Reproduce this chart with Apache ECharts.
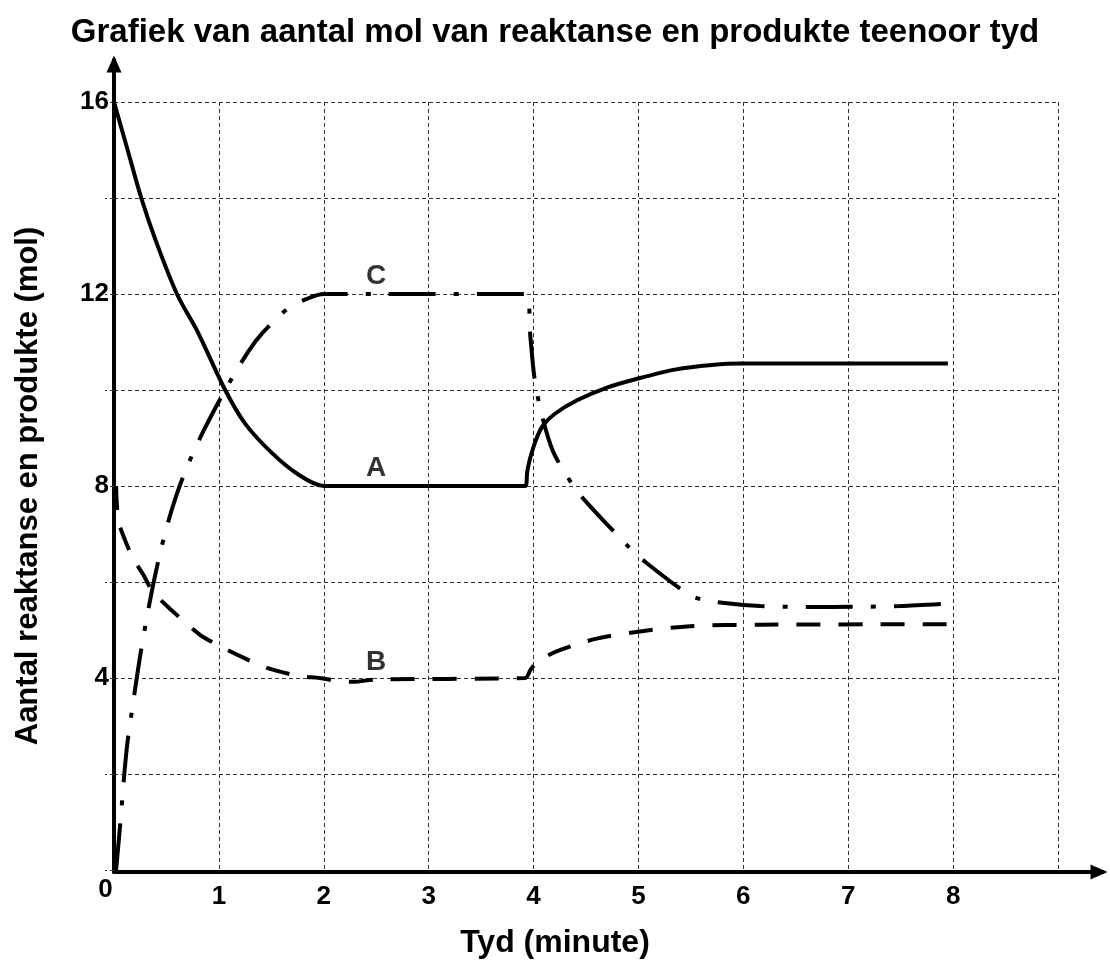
<!DOCTYPE html>
<html>
<head>
<meta charset="utf-8">
<title>Grafiek van aantal mol</title>
<script src="https://cdn.jsdelivr.net/npm/echarts@6/dist/echarts.min.js"></script>
<style>
  html, body { margin: 0; padding: 0; background: #fff; }
  #main { width: 1110px; height: 964px; }
</style>
</head>
<body>
<div id="main"></div>
<script>
// tyd (minute) / mol waardes, afgelees van die grafiek
const dataA = [
  [0, 16], [0.13, 15], [0.26, 14], [0.4, 13.1], [0.6, 12], [0.8, 11.2], [1.06, 10],
  [1.25, 9.3], [1.5, 8.7], [1.75, 8.25], [2, 8], [2.5, 8], [3.92, 8], [3.94, 8.3],
  [3.97, 8.6], [4.03, 9.0], [4.09, 9.26], [4.2, 9.5], [4.41, 9.78], [4.7, 10.05],
  [4.98, 10.23], [5.36, 10.43], [5.7, 10.52], [5.97, 10.55], [7.95, 10.55]
];
const dataB = [
  [0.02, 8], [0.04, 7.3], [0.1, 6.9], [0.18, 6.5], [0.28, 6.15], [0.37, 5.8],
  [0.53, 5.45], [0.82, 4.9], [0.99, 4.69], [1.17, 4.49], [1.46, 4.21], [1.77, 4.04],
  [1.96, 4.0], [2.15, 3.93], [2.28, 3.92], [2.5, 3.97], [3.92, 4], [3.97, 4.17],
  [4.03, 4.33], [4.1, 4.43], [4.25, 4.58], [4.6, 4.82], [4.98, 4.96], [5.49, 5.08],
  [6.16, 5.11], [7.99, 5.12]
];
const dataC = [
  [0.02, 0], [0.057, 0.9], [0.12, 2.5], [0.18, 3.45], [0.26, 4.6], [0.36, 5.8],
  [0.45, 6.7], [0.55, 7.5], [0.66, 8.2], [0.82, 9.0], [1.06, 10.0], [1.28, 10.8],
  [1.42, 11.2], [1.66, 11.7], [1.84, 11.9], [2.0, 12], [2.5, 12], [3.93, 12],
  [3.97, 11.1], [4.01, 10.23], [4.08, 9.47], [4.19, 8.7], [4.38, 8.0], [4.51, 7.65],
  [4.89, 6.77], [5.04, 6.46], [5.49, 5.73], [5.68, 5.6], [6.16, 5.5], [6.85, 5.48],
  [7.5, 5.5], [7.94, 5.55]
];
const curveNames = ['A', 'B', 'C'];
const labelTime = 2.5;
const xTicks = [0, 1, 2, 3, 4, 5, 6, 7, 8];
const yTicks = [4, 8, 12, 16];

const font = 'Liberation Sans, Arial, sans-serif';
const gridDash = { color: '#333', width: 1, type: [4, 3] };
const boldText = { fontFamily: font, fontWeight: 'bold', color: '#000' };

let myChart = echarts.init(document.getElementById('main'));

const curves = [dataA, dataB, dataC];
const styles = [
  { color: '#000', width: 4, type: 'solid' },
  { color: '#000', width: 4, type: [24, 18] },
  { color: '#000', width: 4, type: [47, 18, 5, 18] }
];

let series = curves.map((d, i) => ({
  name: curveNames[i],
  type: 'line',
  xAxisIndex: 0,
  yAxisIndex: 0,
  data: d,
  smooth: 0.3,
  symbol: 'none',
  lineStyle: styles[i],
  silent: true,
  z: 3
}));

// letters A, B, C sit on the point at labelTime of each curve
series.push({
  type: 'scatter',
  xAxisIndex: 0,
  yAxisIndex: 0,
  symbolSize: 1,
  itemStyle: { color: 'rgba(0,0,0,0)' },
  data: curves.map((d, i) => ({
    value: d.find(p => p[0] === labelTime),
    name: curveNames[i]
  })),
  label: Object.assign({
    show: true,
    position: 'top',
    distance: 3,
    formatter: '{b}',
    fontSize: 28
  }, boldText),
  z: 4
});

// second grid only carries the two arrowed axis lines
const arrowAxis = {
  type: 'value',
  gridIndex: 1,
  min: 0,
  max: 1,
  axisLine: {
    show: true,
    onZero: false,
    symbol: ['none', 'triangle'],
    symbolSize: [15, 17],
    symbolOffset: [0, -4],
    lineStyle: { color: '#000', width: 4 }
  },
  axisTick: { show: false },
  axisLabel: { show: false },
  splitLine: { show: false }
};

let option = {
  backgroundColor: '#fff',
  animation: false,
  title: {
    text: 'Grafiek van aantal mol van reaktanse en produkte teenoor tyd',
    left: 'center',
    top: 11,
    textStyle: Object.assign({ fontSize: 33 }, boldText)
  },
  grid: [
    { left: 114, right: 52, top: 102, bottom: 92 },
    { left: 114, right: 7, top: 60, bottom: 92 }
  ],
  xAxis: [{
    type: 'value',
    gridIndex: 0,
    min: 0,
    max: 9,
    interval: 1,
    name: 'Tyd (minute)',
    nameLocation: 'middle',
    nameGap: 57,
    nameTextStyle: Object.assign({ fontSize: 32, padding: [0, 62, 0, 0] }, boldText),
    axisLine: { show: false },
    axisTick: { show: false },
    axisLabel: {
      margin: 7,
      formatter: v => {
        if (v === 0) return '{zero|0}';
        return xTicks.indexOf(v) >= 0 ? '{n|' + v + '}' : '';
      },
      rich: {
        n: Object.assign({ fontSize: 26, padding: [7, 0, 0, 0] }, boldText),
        zero: Object.assign({ fontSize: 26, padding: [0, 17, 0, 0] }, boldText)
      }
    },
    splitLine: { show: true, showMinLine: false, lineStyle: gridDash }
  }, Object.assign({}, arrowAxis)],
  yAxis: [{
    type: 'value',
    gridIndex: 0,
    min: 0,
    max: 16,
    interval: 2,
    name: 'Aantal reaktanse en produkte (mol)',
    nameLocation: 'middle',
    nameGap: 70,
    nameTextStyle: Object.assign({ fontSize: 31 }, boldText),
    axisLine: { show: false },
    axisTick: { show: true, length: 9, lineStyle: gridDash },
    axisLabel: Object.assign({
      margin: 5,
      fontSize: 26,
      formatter: v => (yTicks.indexOf(v) >= 0 ? String(v) : '')
    }, boldText),
    splitLine: { show: true, showMinLine: false, lineStyle: gridDash }
  }, Object.assign({}, arrowAxis)],
  series: series
};

myChart.setOption(option);
</script>
</body>
</html>
